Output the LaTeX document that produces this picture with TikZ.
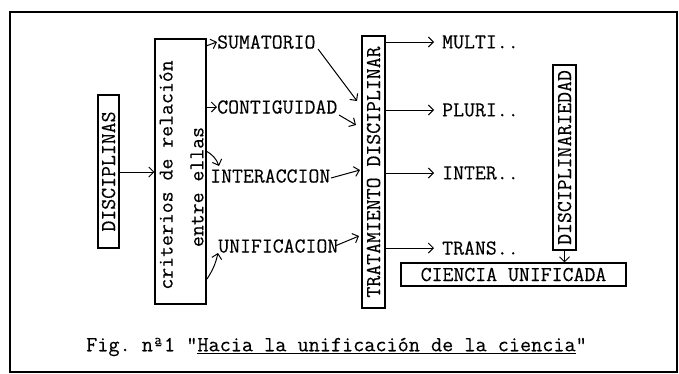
\documentclass[tikz,border=0pt]{standalone}
\usepackage{fontspec}
\setmonofont{Latin Modern Mono}[FakeBold=0.3]
\usetikzlibrary{arrows.meta}
\begin{document}
\begin{tikzpicture}[x=1pt,y=-1pt,
  every node/.style={font=\ttfamily\fontsize{21.2}{22}\selectfont, inner sep=0pt},
  boxy/.style={draw, line width=1.1pt, inner sep=0pt},
  vtext/.style={rotate=90, anchor=center},
  arr/.style={line width=1pt, -{Straight Barb[length=5pt,width=10pt,line width=1pt]}},
  lbl/.style={anchor=west}]
\useasboundingbox (0,0) rectangle (679,373);
% outer frame
\draw[line width=1.2pt] (10,12) rectangle (677,372);

% DISCIPLINAS
\node[boxy, minimum width=21pt, minimum height=153pt] (disc) at (108.5,171.5) {};
\node[vtext] (disct) at (disc.center) {DISCIPLINAS};

% criterios box
\node[boxy, minimum width=51pt, minimum height=265pt] (crit) at (180.5,171.5) {};
\node[vtext] (critt) at (166,175) {criterios de relación};
\node[vtext] (entre) at (197,187) {entre ellas};

% middle labels
\node[lbl] (sum) at (217,42) {SUMATORIO};
\node[lbl] (cont) at (217,107) {CONTIGUIDAD};
\node[lbl] (inter) at (210,176) {INTERACCION};
\node[lbl] (unif) at (218,246) {UNIFICACION};

% TRATAMIENTO DISCIPLINAR
\node[boxy, minimum width=23pt, minimum height=272pt] (trat) at (373.5,172) {};
\node[vtext] (tratt) at (trat.center) {TRATAMIENTO DISCIPLINAR};

% right labels
\node[lbl] (multi) at (442,42) {MULTI..};
\node[lbl] (pluri) at (442,110) {PLURI..};
\node[lbl] (interr) at (442,173) {INTER..};
\node[lbl] (trans) at (442,248) {TRANS..};

% DISCIPLINARIEDAD
\node[boxy, minimum width=23pt, minimum height=185pt] (discr) at (564.5,157.5) {};
\node[vtext] (discrt) at (discr.center) {DISCIPLINARIEDAD};

% CIENCIA UNIFICADA
\node[boxy, minimum width=225pt, minimum height=23pt] (cien) at (513.5,274.5) {CIENCIA UNIFICADA};

% caption
\node[anchor=west, font=\ttfamily\fontsize{21.6}{22}\selectfont] (cap) at (86,347) {Fig. nª1 \char34\underline{Hacia la unificación de la ciencia}\char34};

% coordinates for free ends
\coordinate (c1) at (206,46);
\coordinate (c3) at (206,151);
\coordinate (c4) at (207,279);
\coordinate (s1) at (318,49);
\coordinate (s2) at (339,115);
\coordinate (s3) at (331,178);
\coordinate (s4) at (335,246);
\coordinate (t1) at (357,101);
\coordinate (t2) at (356,125);
\coordinate (t3) at (360,170);
\coordinate (t4) at (359,236);

% arrows
\draw[arr] (disc.east |- 0,172) -- (crit.west |- 0,172);
\draw[arr] (c1) -- (sum.west);
\draw[arr] (crit.east |- cont) -- (cont.west);
\draw[arr] (c3) to[bend left=20] (219,166);
\draw[arr] (c4) to[bend right=10] (unif.south west);
\draw[arr] (s1) -- (t1);
\draw[arr] (s2) -- (t2);
\draw[arr] (s3) -- (t3);
\draw[arr] (s4) -- (t4);
\draw[arr] (trat.east |- multi) -- ([xshift=-8pt]multi.west);
\draw[arr] (trat.east |- pluri) -- ([xshift=-8pt]pluri.west);
\draw[arr] (trat.east |- interr) -- ([xshift=-8pt]interr.west);
\draw[arr] (trat.east |- trans) -- ([xshift=-8pt]trans.west);
\draw[arr] (discr.south) -- (cien.north -| discr.south);
\end{tikzpicture}
\end{document}
